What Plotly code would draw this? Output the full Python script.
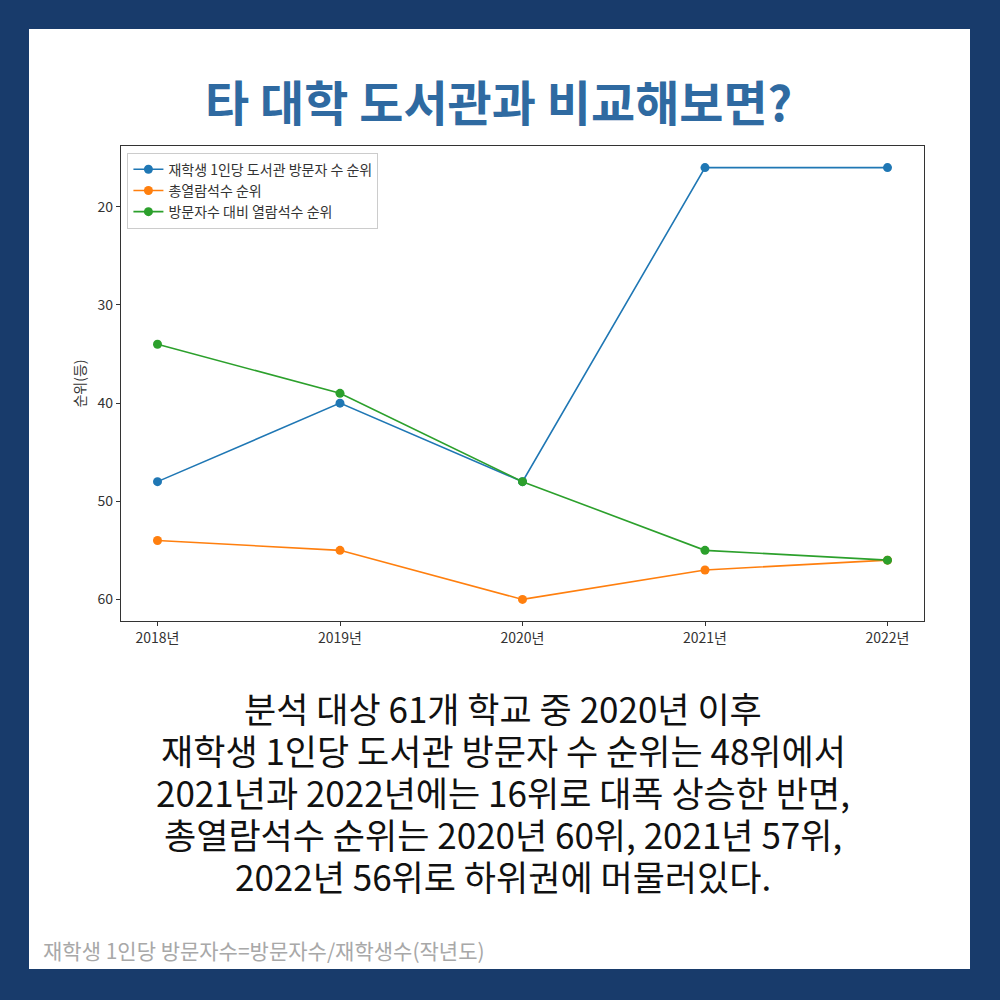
import plotly.graph_objects as go

# data
years = ['2018년', '2019년', '2020년', '2021년', '2022년']
visit_rank = [48, 40, 48, 16, 16]
seat_rank = [54, 55, 60, 57, 56]
ratio_rank = [34, 39, 48, 55, 56]

series_names = ['재학생 1인당 도서관 방문자 수 순위', '총열람석수 순위', '방문자수 대비 열람석수 순위']
colors = ['#1f77b4', '#ff7f0e', '#2ca02c']

title_text = '타 대학 도서관과 비교해보면?'
body_lines = [
    '분석 대상 61개 학교 중 2020년 이후',
    '재학생 1인당 도서관 방문자 수 순위는 48위에서',
    '2021년과 2022년에는 16위로 대폭 상승한 반면,',
    '총열람석수 순위는 2020년 60위, 2021년 57위,',
    '2022년 56위로 하위권에 머물러있다.',
]
note_text = '재학생 1인당 방문자수=방문자수/재학생수(작년도)'

FONT = 'Noto Sans CJK KR'
W, H = 1000, 1000
L, R, T, B = 121, 924, 146, 621  # plot box in pixels


def px(x):
    return (x - L) / (R - L)


def py(y):
    return (B - y) / (B - T)


fig = go.Figure()
for vals, name, c in zip([visit_rank, seat_rank, ratio_rank], series_names, colors):
    fig.add_trace(go.Scatter(
        x=years, y=vals, name=name, mode='lines+markers',
        line=dict(color=c, width=1.6),
        marker=dict(color=c, size=9),
    ))

annotations = [dict(
    text='<b>' + title_text + '</b>', x=px(498), y=py(100), xref='paper', yref='paper',
    showarrow=False, font=dict(family=FONT, size=48, color='#2f6aa1'),
    xanchor='center', yanchor='middle',
)]
# body text: one annotation per line, spaced like the reference
line_y = [707, 749, 791, 833, 875]
for txt, yy in zip(body_lines, line_y):
    annotations.append(dict(
        text=txt, x=px(503), y=py(yy), xref='paper', yref='paper', showarrow=False,
        font=dict(family=FONT, size=35, color='#111111'),
        xanchor='center', yanchor='middle',
    ))
annotations.append(dict(
    text=note_text, x=px(41), y=py(950), xref='paper', yref='paper', showarrow=False,
    font=dict(family=FONT, size=21, color='#a8a8a8'),
    xanchor='left', yanchor='middle',
))

fig.update_layout(
    width=W, height=H,
    margin=dict(l=L, r=W - R, t=T, b=H - B),
    paper_bgcolor='#183b6b',
    plot_bgcolor='white',
    showlegend=True,
    legend=dict(
        x=0.008, y=0.986, xanchor='left', yanchor='top',
        bgcolor='rgba(255,255,255,0.8)', bordercolor='#cccccc', borderwidth=1,
        font=dict(family=FONT, size=14, color='#333333'),
        tracegroupgap=0, itemwidth=30,
    ),
    shapes=[dict(
        type='rect', xref='paper', yref='paper', layer='below',
        x0=px(29), x1=px(970), y0=py(969), y1=py(29),
        fillcolor='white', line=dict(width=0),
    )],
    annotations=annotations,
    xaxis=dict(
        type='category', range=[-0.2, 4.2],
        showgrid=False, zeroline=False,
        showline=True, linecolor='#333333', linewidth=1.2, mirror=True,
        ticks='outside', ticklen=4, tickcolor='#333333',
        tickfont=dict(family=FONT, size=14, color='#333333'),
    ),
    yaxis=dict(
        range=[62.2, 13.8], tickvals=[20, 30, 40, 50, 60],
        showgrid=False, zeroline=False,
        showline=True, linecolor='#333333', linewidth=1.2, mirror=True,
        ticks='outside', ticklen=4, tickcolor='#333333',
        tickfont=dict(family=FONT, size=14, color='#333333'),
        title=dict(text='순위(등)', font=dict(family=FONT, size=14, color='#333333'), standoff=8),
    ),
)

fig.write_html('out.html', config={'displayModeBar': False},
               post_script="document.body.style.margin='0';")
